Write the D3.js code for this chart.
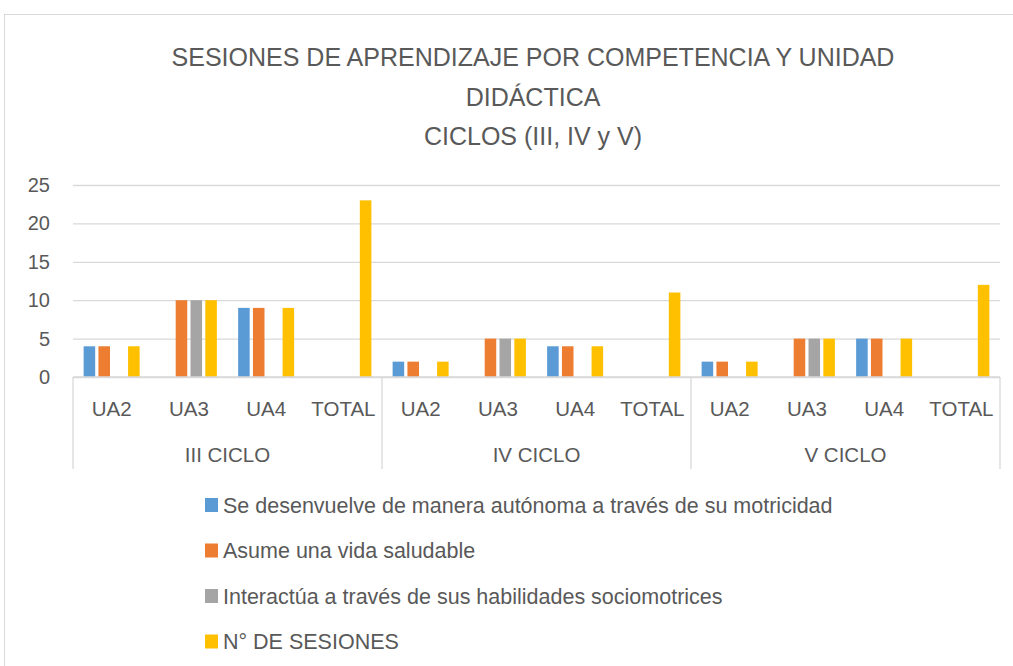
<!DOCTYPE html>
<html>
<head>
<meta charset="utf-8">
<script src="https://cdn.jsdelivr.net/npm/d3@7/dist/d3.min.js"></script>
<style>
  body { margin: 0; background: #fff; }
  text { font-family: "Liberation Sans", Arial, sans-serif; fill: #595959; }
</style>
</head>
<body>
<div id="chart"></div>
<script>
// datos del grafico
var ciclos = ["III CICLO", "IV CICLO", "V CICLO"];
var unidades = ["UA2", "UA3", "UA4", "TOTAL"];
var competencias = [
    "Se desenvuelve de manera autónoma a través de su motricidad",
    "Asume una vida saludable",
    "Interactúa a través de sus habilidades sociomotrices",
    "N° DE SESIONES"
];
var colores = ["#5B9BD5", "#ED7D31", "#A5A5A5", "#FFC000"];
var motricidad    = [4, 0, 9, 0,   2, 0, 4, 0,    2, 0, 5, 0];
var saludable     = [4, 10, 9, 0,  2, 5, 4, 0,    2, 5, 5, 0];
var sociomotrices = [0, 10, 0, 0,  0, 5, 0, 0,    0, 5, 0, 0];
var sesiones      = [4, 10, 9, 23, 2, 5, 4, 11,   2, 5, 5, 12];
var yTicks = [0, 5, 10, 15, 20, 25];

var valores = [motricidad, saludable, sociomotrices, sesiones];

var W = 1013, H = 666;
var margin = { top: 185, left: 73, right: 13, bottom: 289 };

var svg = d3.select("#chart").append("svg")
    .attr("width", W)
    .attr("height", H);

// borde del grafico
svg.append("rect")
    .attr("x", 4.5).attr("y", 14.5)
    .attr("width", W + 10).attr("height", H + 10)
    .attr("fill", "#fff")
    .attr("stroke", "#d9d9d9");

// titulo
var titulo = ["SESIONES DE APRENDIZAJE POR COMPETENCIA Y UNIDAD", "DIDÁCTICA", "CICLOS (III, IV y V)"];
svg.selectAll(".titulo")
    .data(titulo)
    .enter().append("text")
    .attr("class", "titulo")
    .attr("x", 533)
    .attr("y", function (d, i) { return 66 + i * 39.5; })
    .attr("text-anchor", "middle")
    .style("font-size", "25px")
    .text(function (d) { return d; });

// categorias (12)
var claves = [];
ciclos.forEach(function (c) {
    unidades.forEach(function (u) { claves.push(c + "|" + u); });
});

var x0 = d3.scaleBand()
    .domain(claves)
    .range([margin.left, W - margin.right]);

var xc = d3.scaleBand()
    .domain(ciclos)
    .range([margin.left, W - margin.right]);

var x1 = d3.scaleBand()
    .domain(d3.range(competencias.length))
    .range([0, 56])
    .paddingInner(0.22);

var y = d3.scaleLinear()
    .domain([0, 25])
    .range([377, 185]);

// lineas de cuadricula
svg.append("g")
    .attr("transform", "translate(" + margin.left + ",0)")
    .call(d3.axisLeft(y).tickValues(yTicks).tickSize(-(W - margin.right - margin.left)).tickPadding(23).tickFormat(d3.format("d")))
    .call(function (g) { g.select(".domain").remove(); })
    .call(function (g) {
        g.selectAll(".tick line").attr("stroke", "#d9d9d9").attr("stroke-width", 1.3);
        g.selectAll(".tick text").style("font-size", "20px").attr("fill", "#595959");
    });

// barras
var barras = [];
claves.forEach(function (k, i) {
    valores.forEach(function (serie, s) {
        if (serie[i] > 0) barras.push({ clave: k, serie: s, valor: serie[i] });
    });
});

var offset = (x0.bandwidth() - 56) / 2;
svg.selectAll(".bar")
    .data(barras)
    .enter().append("rect")
    .attr("class", "bar")
    .attr("x", function (d) { return x0(d.clave) + offset + x1(d.serie); })
    .attr("y", function (d) { return y(d.valor); })
    .attr("width", x1.bandwidth())
    .attr("height", function (d) { return y(0) - y(d.valor); })
    .attr("fill", function (d) { return colores[d.serie]; });

// eje de categorias
var ejeX = svg.append("g");
ejeX.append("line")
    .attr("x1", margin.left).attr("x2", W - margin.right)
    .attr("y1", y(0)).attr("y2", y(0))
    .attr("stroke", "#d9d9d9").attr("stroke-width", 1.3);

var separadores = ciclos.map(function (c) { return xc(c); }).concat([W - margin.right]);
ejeX.selectAll(".sep")
    .data(separadores)
    .enter().append("line")
    .attr("class", "sep")
    .attr("x1", function (d) { return d; }).attr("x2", function (d) { return d; })
    .attr("y1", y(0)).attr("y2", 469)
    .attr("stroke", "#d9d9d9").attr("stroke-width", 1.3);

ejeX.selectAll(".sub")
    .data(claves)
    .enter().append("text")
    .attr("class", "sub")
    .attr("x", function (d) { return x0(d) + x0.bandwidth() / 2; })
    .attr("y", 415.5)
    .attr("text-anchor", "middle")
    .style("font-size", "20.5px")
    .text(function (d) { return d.split("|")[1]; });

ejeX.selectAll(".grupo")
    .data(ciclos)
    .enter().append("text")
    .attr("class", "grupo")
    .attr("x", function (d) { return xc(d) + xc.bandwidth() / 2; })
    .attr("y", 462)
    .attr("text-anchor", "middle")
    .style("font-size", "20.5px")
    .text(function (d) { return d; });

// leyenda
var leyenda = svg.selectAll(".leyenda")
    .data(competencias)
    .enter().append("g")
    .attr("class", "leyenda")
    .attr("transform", function (d, i) { return "translate(205," + (505 + i * 45.5) + ")"; });

leyenda.append("rect")
    .attr("x", 0).attr("y", -7)
    .attr("width", 13).attr("height", 14)
    .attr("fill", function (d, i) { return colores[i]; });

leyenda.append("text")
    .attr("x", 18).attr("y", 7.5)
    .style("font-size", "21.5px")
    .text(function (d) { return d; });
</script>
</body>
</html>
